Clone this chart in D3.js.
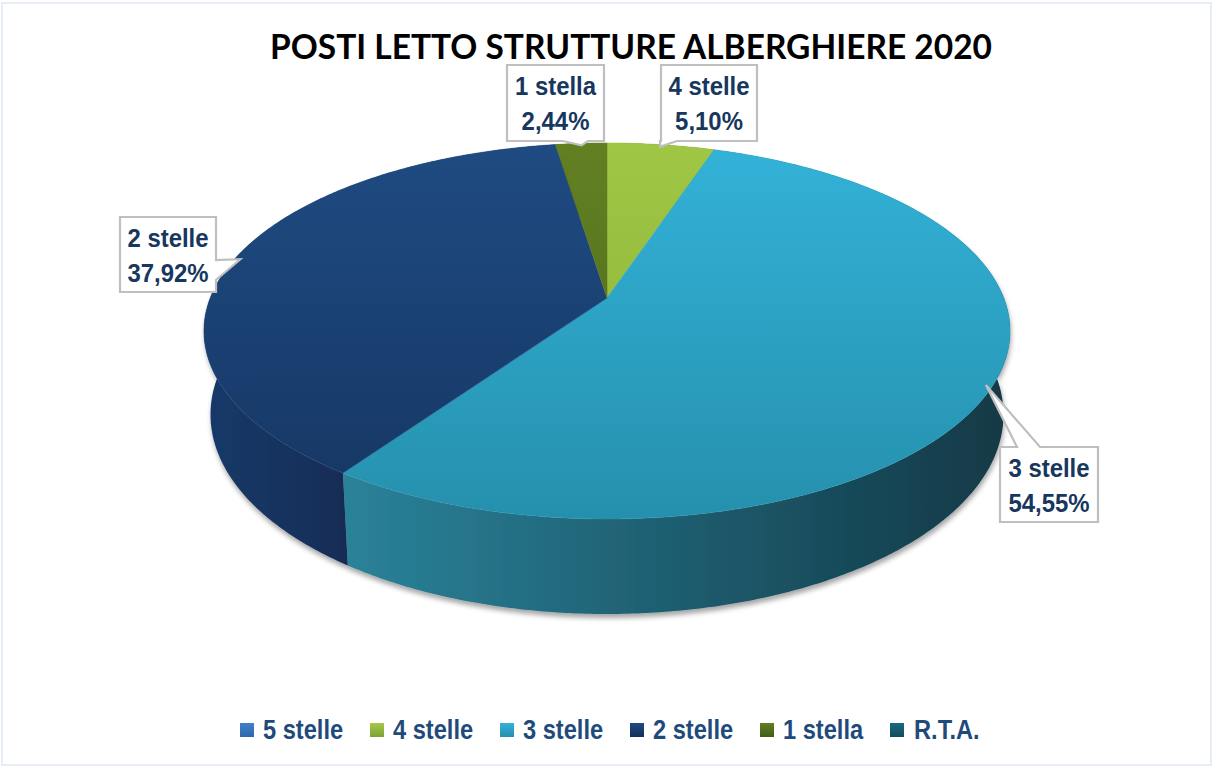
<!DOCTYPE html>
<html>
<head>
<meta charset="utf-8">
<script src="https://cdn.jsdelivr.net/npm/d3@7"></script>
<style>
  html, body { margin: 0; padding: 0; background: #fff; }
  svg { display: block; }
</style>
</head>
<body>
<svg id="chart"></svg>
<script>
// Chart data
const categories = ["5 stelle", "4 stelle", "3 stelle", "2 stelle", "1 stella", "R.T.A."];
const values = [0, 5.10, 54.55, 37.92, 2.44, 0];
const valueLabels = ["", "5,10%", "54,55%", "37,92%", "2,44%", ""];
const titleText = "POSTI LETTO STRUTTURE ALBERGHIERE 2020";

// Colours per category: top gradient, wall gradient, legend gradient
const topColors = [
    ["#3f80cc", "#2f68ad"], ["#9fc644", "#8db03a"], ["#33b2d8", "#2590ad"],
    ["#1f4b82", "#153663"], ["#628022", "#4c681b"], ["#1b6a80", "#145467"]
];
const wallColors = [
    ["#2b5f9e", "#1c4070"], ["#6f8f2c", "#55701f"], ["#2a8299", "#123845"],
    ["#163a68", "#122c56"], ["#43591a", "#354714"], ["#15566a", "#0f3f4e"]
];
const legendColors = [
    ["#3f80cc", "#2f68ad"], ["#a3c94a", "#7fa332"], ["#33b2d8", "#2590ad"],
    ["#1f4b82", "#132f5a"], ["#628022", "#435c16"], ["#1b6a80", "#124c5e"]
];

const width = 1213;
const height = 767;
const textColor = "#17375e";

// Perspective of the 3D disc: x/y on the unit circle go to screen pixels
const view = { cx: 607, cy: 298, scaleX: 396.8, scaleY: 182.2, tilt: 0.1755, drop: 83.4, shrink: 0.016 };

function project(angle, depth, radius = 1) {
    const u = Math.sin(angle) * radius;
    const v = Math.cos(angle) * radius;
    const w = 1 + view.tilt * v + view.shrink * depth;
    return [view.cx + view.scaleX * u / w, view.cy + (view.drop * depth - view.scaleY * v) / w];
}

// Callout boxes: box rectangle and where the pointer leaves the box
const callouts = {
    "1 stella": { x: 507, y: 65, w: 97, h: 76, side: "bottom", a: 563, b: 588 },
    "4 stelle": { x: 661, y: 65, w: 96, h: 76, side: "bottom", a: 660, b: 677 },
    "3 stelle": { x: 1000, y: 447, w: 98, h: 75, side: "top", a: 1017, b: 1040 },
    "2 stelle": { x: 120, y: 217, w: 96, h: 75, side: "right", a: 260, b: 280 }
};

const svg = d3.select("#chart").attr("width", width).attr("height", height);
const defs = svg.append("defs");

function addGradient(id, colors, x1, y1, x2, y2) {
    const g = defs.append("linearGradient").attr("id", id)
        .attr("gradientUnits", "userSpaceOnUse")
        .attr("x1", x1).attr("y1", y1).attr("x2", x2).attr("y2", y2);
    g.append("stop").attr("offset", 0).attr("stop-color", colors[0]);
    g.append("stop").attr("offset", 1).attr("stop-color", colors[1]);
}

categories.forEach((c, i) => {
    addGradient("top" + i, topColors[i], 0, 143, 0, 519);
    addGradient("wall" + i, wallColors[i], i === 2 ? 348 : 204, 0, i === 2 ? 1010 : 348, 0);
});

const shadow = defs.append("filter").attr("id", "pieShadow")
    .attr("x", "-5%").attr("y", "-5%").attr("width", "110%").attr("height", "115%");
shadow.append("feDropShadow").attr("dx", 1).attr("dy", 4).attr("stdDeviation", 2.5)
    .attr("flood-color", "#000").attr("flood-opacity", 0.35);

// Page background and faint frame
svg.append("rect").attr("x", 2).attr("y", 3).attr("width", width - 4).attr("height", height - 5)
    .attr("fill", "#fff").attr("stroke", "#e6edf7").attr("stroke-width", 2);

// Slices from the data
const arcs = d3.pie().value(d => d).sort(null)(values);

function arcAngles(d) {
    const steps = Math.max(2, Math.ceil((d.endAngle - d.startAngle) / 0.01));
    return d3.range(steps + 1).map(i => d.startAngle + (d.endAngle - d.startAngle) * i / steps);
}

// Side wall: many small quads in one path, so there are no seams
const wallGroup = svg.append("g").attr("filter", "url(#pieShadow)");
arcs.forEach((d, i) => {
    if (d.value === 0) return;
    const angles = arcAngles(d);
    let path = "";
    d3.pairs(angles).forEach(([a0, a1]) => {
        path += "M" + project(a0, 0) + "L" + project(a1, 0) + "L" + project(a1, 1) + "L" + project(a0, 1) + "Z";
    });
    wallGroup.append("path").attr("d", path).attr("fill", `url(#wall${i})`);
});

// Top face
const topLine = d3.line();
arcs.forEach((d, i) => {
    if (d.value === 0) return;
    const rim = arcAngles(d).map(a => project(a, 0));
    svg.append("path")
        .attr("d", topLine([[view.cx, view.cy], ...rim]) + "Z")
        .attr("fill", `url(#top${i})`)
        .attr("stroke", `url(#top${i})`)
        .attr("stroke-width", 0.5);
});

// Squeezes a text horizontally, the labels in the picture are narrower than the font
function squeeze(sel, factor) {
    sel.each(function() {
        d3.select(this)
            .attr("textLength", this.getComputedTextLength() * factor)
            .attr("lengthAdjust", "spacingAndGlyphs");
    });
    return sel;
}

// Callout with a pointer running to the middle of the slice rim
function calloutPath(b, tip) {
    const r = b.x + b.w, s = b.y + b.h;
    const pts = [[b.x, b.y]];
    if (b.side === "top") pts.push([b.a, b.y], tip, [b.b, b.y]);
    pts.push([r, b.y]);
    if (b.side === "right") pts.push([r, b.a], tip, [r, b.b]);
    pts.push([r, s]);
    if (b.side === "bottom") pts.push([b.b, s], tip, [b.a, s]);
    pts.push([b.x, s]);
    return d3.line()(pts) + "Z";
}

arcs.forEach((d, i) => {
    const b = callouts[categories[i]];
    if (!b) return;
    const tip = project((d.startAngle + d.endAngle) / 2, 0, 0.985);
    svg.append("path").attr("d", calloutPath(b, tip))
        .attr("fill", "#fff").attr("stroke", "#bfbfbf").attr("stroke-width", 2.2)
        .attr("stroke-linejoin", "miter");
    [categories[i], valueLabels[i]].forEach((line, k) => {
        svg.append("text")
            .attr("x", b.x + b.w / 2)
            .attr("y", b.y + 30 + k * 35)
            .attr("text-anchor", "middle")
            .attr("font-family", "'Liberation Sans', Arial, sans-serif")
            .attr("font-weight", "bold").attr("font-size", 26)
            .attr("fill", textColor)
            .text(line)
            .call(squeeze, 0.92);
    });
});

// Title
svg.append("text")
    .attr("x", 631).attr("y", 59)
    .attr("text-anchor", "middle")
    .attr("font-family", "Lato, sans-serif")
    .attr("font-weight", "bold").attr("font-size", 34)
    .attr("textLength", 722).attr("lengthAdjust", "spacingAndGlyphs")
    .attr("fill", "#000")
    .text(titleText);

// Legend
const legendX = d3.scalePoint().domain(categories).range([240, 890]);
const legend = svg.selectAll("g.legend").data(categories).join("g")
    .attr("class", "legend")
    .attr("transform", d => `translate(${legendX(d)},723)`);

categories.forEach((c, i) => {
    const g = defs.append("linearGradient").attr("id", "leg" + i)
        .attr("x1", 0).attr("y1", 0).attr("x2", 0).attr("y2", 1);
    g.append("stop").attr("offset", 0).attr("stop-color", legendColors[i][0]);
    g.append("stop").attr("offset", 1).attr("stop-color", legendColors[i][1]);
});

legend.append("rect")
    .attr("width", 14).attr("height", 14)
    .attr("fill", (d, i) => `url(#leg${i})`);

legend.append("text")
    .attr("x", d => d === "R.T.A." ? 24 : 23).attr("y", 16)
    .attr("font-family", "'Liberation Sans', Arial, sans-serif")
    .attr("font-weight", "bold").attr("font-size", 27)
    .attr("fill", "#1f4a7c")
    .text(d => d)
    .call(squeeze, 0.875);
</script>
</body>
</html>
